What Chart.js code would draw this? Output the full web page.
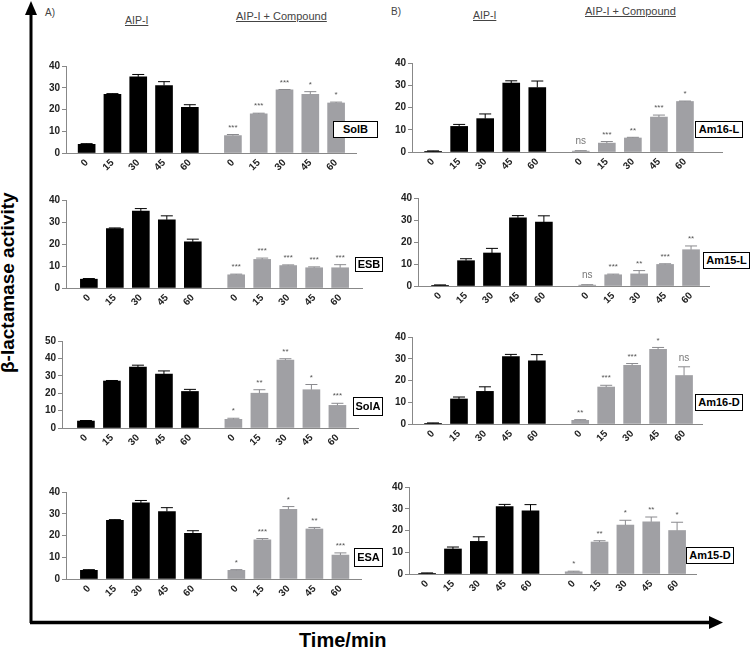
<!DOCTYPE html>
<html>
<head>
<meta charset="utf-8">
<script src="https://cdn.jsdelivr.net/npm/chart.js@4/dist/chart.umd.min.js"></script>
<style>
body { margin:0; width:750px; height:649px; background:#fff; position:relative; overflow:hidden;
       font-family:"Liberation Sans", Arial, sans-serif; }
canvas { position:absolute; }
.txt { position:absolute; white-space:nowrap; color:#444; }
.hdr { font-size:11px; text-decoration:underline; }
.box { position:absolute; box-sizing:border-box; border:1px solid #000; background:#fff;
       font-weight:bold; font-size:11px; color:#000; text-align:center; z-index:2; }
</style>
</head>
<body>

<svg width="750" height="649" style="position:absolute;left:0;top:0">
  <line x1="31" y1="12" x2="31" y2="623" stroke="#000" stroke-width="3"/>
  <polygon points="25,15 37,15 31,1" fill="#000"/>
  <line x1="30" y1="622.5" x2="711" y2="622.5" stroke="#000" stroke-width="3.5"/>
  <polygon points="709,616 709,629 723,622.5" fill="#000"/>
</svg>

<div class="txt" style="left:-82px;top:272px;width:180px;text-align:center;font-size:19px;font-weight:bold;color:#000;transform:rotate(-90deg)">β-lactamase activity</div>
<div class="txt" style="left:299px;top:629px;font-size:20px;font-weight:bold;color:#000">Time/min</div>

<div class="txt" style="left:45px;top:7px;font-size:10px">A)</div>
<div class="txt hdr" style="left:125px;top:14px;font-size:10.5px">AIP-I</div>
<div class="txt hdr" style="left:236px;top:10px">AIP-I + Compound</div>
<div class="txt" style="left:391px;top:6px;font-size:10px">B)</div>
<div class="txt hdr" style="left:473px;top:9px;font-size:10.5px">AIP-I</div>
<div class="txt hdr" style="left:585px;top:5px">AIP-I + Compound</div>

<script>
//////////////// DATA /////////////////////////////////
var timeLabels = ['0', '15', '30', '45', '60'];

// AIP-I alone (same control in every panel of a column)
var aipA = [4, 27, 35, 31, 21];
var aipAErr = [0.3, 0.3, 1.1, 1.8, 1.2];
var aipB = [0.3, 11.5, 15, 31, 29];
var aipBErr = [0.2, 0.9, 2.1, 1.0, 2.9];

// AIP-I + compound
var solB = [8, 18, 29, 27, 23];
var solBErr = [0.5, 0.3, 0.2, 1.2, 0.4];
var solBSig = ['***', '***', '***', '*', '*'];

var esb = [6, 13, 10.2, 9.2, 9.2];
var esbErr = [0.3, 0.6, 0.3, 0.4, 1.4];
var esbSig = ['***', '***', '***', '***', '***'];

var solA = [5, 20, 39, 22, 13];
var solAErr = [0.6, 2, 0.8, 3, 1.2];
var solASig = ['*', '**', '**', '*', '***'];

var esa = [4, 18, 32, 23, 11];
var esaErr = [0.3, 0.6, 1.3, 0.7, 1];
var esaSig = ['*', '***', '*', '**', '***'];

var am16L = [0.4, 4, 6.3, 15.7, 22.7];
var am16LErr = [0.2, 0.7, 0.3, 0.9, 0.2];
var am16LSig = ['ns', '***', '**', '***', '*'];

var am15L = [0.4, 5.1, 5.5, 9.8, 16.5];
var am15LErr = [0.2, 0.3, 1.5, 0.3, 1.7];
var am15LSig = ['ns', '***', '**', '***', '**'];

var am16D = [1.7, 17, 27, 34.3, 22.3];
var am16DErr = [0.3, 0.8, 0.8, 0.9, 4];
var am16DSig = ['**', '***', '***', '*', 'ns'];

var am15D = [1, 14.7, 22.5, 24, 20];
var am15DErr = [0.3, 0.6, 2.2, 2.2, 3.8];
var am15DSig = ['*', '**', '*', '**', '*'];

// bar slots on the x axis (gap between the two groups)
var slotsCtrl = [0, 1, 2, 3, 4];
var slotsCmp = [5.67, 6.67, 7.67, 8.67, 9.67];

//////////////// LAYOUT /////////////////////////////////
var panels = [
  {name:'SolB',   v:solB,  e:solBErr,  s:solBSig,  c:aipA, ce:aipAErr, max:40, ax:66,  top:66,  zero:153, end:357, xmin:-0.80, xmax:10.48, box:[333,121,45,17]},
  {name:'ESB',    v:esb,   e:esbErr,   s:esbSig,   c:aipA, ce:aipAErr, max:40, ax:66,  top:200, zero:288, end:363, xmin:-0.88, xmax:10.55, box:[355,257,28,15]},
  {name:'SolA',   v:solA,  e:solAErr,  s:solASig,  c:aipA, ce:aipAErr, max:50, ax:62,  top:341, zero:428, end:359, xmin:-0.92, xmax:10.5,  box:[353,397,30,19]},
  {name:'ESA',    v:esa,   e:esaErr,   s:esaSig,   c:aipA, ce:aipAErr, max:40, ax:66,  top:492, zero:579, end:362, xmin:-0.88, xmax:10.5,  box:[354,548,29,19]},
  {name:'Am16-L', v:am16L, e:am16LErr, s:am16LSig, c:aipB, ce:aipBErr, max:40, ax:412, top:63,  zero:152, end:723, xmin:-0.81, xmax:11.13, box:[695,121,48,17]},
  {name:'Am15-L', v:am15L, e:am15LErr, s:am15LSig, c:aipB, ce:aipBErr, max:40, ax:418, top:198, zero:286, end:710, xmin:-0.85, xmax:10.4,  box:[703,252,47,17]},
  {name:'Am16-D', v:am16D, e:am16DErr, s:am16DSig, c:aipB, ce:aipBErr, max:40, ax:412, top:337, zero:424, end:703, xmin:-0.81, xmax:10.4,  box:[695,394,48,17]},
  {name:'Am15-D', v:am15D, e:am15DErr, s:am15DSig, c:aipB, ce:aipBErr, max:40, ax:409, top:487, zero:574, end:697, xmin:-0.70, xmax:10.44, box:[686,547,48,17]}
];

var Y_W = 40, PAD_T = 8, X_H = 34;

//////////////// ERROR BARS + STARS /////////////////////////////////
var errorBars = {
  id: 'errorBars',
  afterDatasetsDraw: function(chart) {
    var ctx = chart.ctx, ys = chart.scales.y;
    chart.data.datasets.forEach(function(ds, di) {
      var meta = chart.getDatasetMeta(di);
      meta.data.forEach(function(bar, i) {
        var top = ys.getPixelForValue(ds.data[i].y + ds.err[i]);
        ctx.save();
        ctx.strokeStyle = ds.errColor;
        ctx.lineWidth = 1;
        ctx.beginPath();
        ctx.moveTo(bar.x, bar.y);
        ctx.lineTo(bar.x, top);
        ctx.moveTo(bar.x - 6, top);
        ctx.lineTo(bar.x + 6, top);
        ctx.stroke();
        if (ds.sig) {
          var t = ds.sig[i];
          ctx.textAlign = 'center';
          ctx.textBaseline = 'middle';
          if (t == 'ns') {
            ctx.font = '10px "Liberation Sans", Arial';
            ctx.fillStyle = '#777';
            ctx.fillText(t, bar.x, top - 9);
          } else {
            ctx.font = '8px "Liberation Sans", Arial';
            ctx.fillStyle = '#555';
            ctx.fillText(t, bar.x, top - 7);
          }
        }
        ctx.restore();
      });
    });
  }
};

//////////////// CHARTS /////////////////////////////////
var allSlots = slotsCtrl.concat(slotsCmp);
var allLabels = timeLabels.concat(timeLabels);

panels.forEach(function(p) {
  var cv = document.createElement('canvas');
  var left = p.ax - Y_W, topPx = p.top - PAD_T;
  var w = p.end - left, h = (p.zero - p.top) + PAD_T + X_H;
  cv.width = w; cv.height = h;
  cv.style.left = left + 'px';
  cv.style.top = topPx + 'px';
  document.body.appendChild(cv);

  // compound name box
  var b = document.createElement('div');
  b.className = 'box';
  b.textContent = p.name;
  b.style.left = p.box[0] + 'px';
  b.style.top = p.box[1] + 'px';
  b.style.width = p.box[2] + 'px';
  b.style.height = p.box[3] + 'px';
  b.style.lineHeight = (p.box[3] - 2) + 'px';
  document.body.appendChild(b);

  new Chart(cv, {
    type: 'bar',
    data: {
      datasets: [
        { data: p.c.map(function(v, i) { return {x: slotsCtrl[i], y: v}; }),
          err: p.ce, errColor: '#000', sig: null,
          backgroundColor: '#000', grouped: false, barThickness: 17 },
        { data: p.v.map(function(v, i) { return {x: slotsCmp[i], y: v}; }),
          err: p.e, errColor: '#8a8a8e', sig: p.s,
          backgroundColor: '#a0a0a4', grouped: false, barThickness: 17 }
      ]
    },
    options: {
      responsive: false,
      animation: false,
      layout: { padding: { top: PAD_T, right: 0, left: 0, bottom: 0 } },
      plugins: { legend: { display: false }, tooltip: { enabled: false } },
      scales: {
        x: {
          type: 'linear', min: p.xmin, max: p.xmax, offset: false,
          afterBuildTicks: function(s) { s.ticks = allSlots.map(function(v) { return {value: v}; }); },
          afterFit: function(s) { s.height = X_H; },
          grid: { display: false, drawTicks: false },
          border: { color: '#888', width: 1 },
          ticks: {
            autoSkip: false, minRotation: 45, maxRotation: 45, padding: 4,
            color: '#222', font: { family: '"Liberation Sans", Arial', size: 10, weight: 'bold' },
            callback: function(v, i) { return allLabels[i]; }
          }
        },
        y: {
          min: 0, max: p.max,
          afterFit: function(s) { s.width = Y_W; },
          grid: { drawOnChartArea: false, tickLength: 4, color: '#888' },
          border: { color: '#888', width: 1 },
          ticks: {
            stepSize: 10, padding: 2,
            color: '#222', font: { family: '"Liberation Sans", Arial', size: 10, weight: 'bold' }
          }
        }
      }
    },
    plugins: [errorBars]
  });
});
</script>
</body>
</html>
